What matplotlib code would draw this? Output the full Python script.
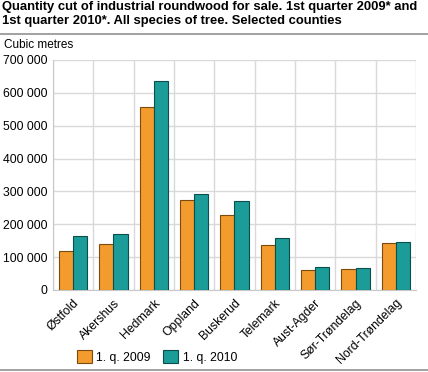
import matplotlib.pyplot as plt
import numpy as np

plt.rcParams['font.family'] = ['Liberation Sans', 'DejaVu Sans']

# data
counties = ['Østfold', 'Akershus', 'Hedmark', 'Oppland', 'Buskerud',
            'Telemark', 'Aust-Agder', 'Sør-Trøndelag', 'Nord-Trøndelag']
q2009 = [119000, 141000, 556000, 273000, 228000, 137000, 62000, 65000, 144000]
q2010 = [163000, 169000, 636000, 291000, 270000, 157000, 70000, 68000, 147000]
series_names = ['1. q. 2009', '1. q. 2010']

W, H = 428, 372
fig = plt.figure(figsize=(W / 100, H / 100), dpi=100)

# title + rules
fig.text(2 / W, 1 - 1 / H,
         'Quantity cut of industrial roundwood for sale. 1st quarter 2009* and\n'
         '1st quarter 2010*. All species of tree. Selected counties',
         ha='left', va='top', fontsize=9.4, fontweight='bold', linespacing=1.27)
fig.add_artist(plt.Line2D([0, 1], [1 - 34 / H, 1 - 34 / H], color='#9a9a9a', lw=1.3))
fig.add_artist(plt.Line2D([0, 1], [1 - 370 / H, 1 - 370 / H], color='#9a9a9a', lw=1.3))
fig.text(4 / W, 1 - 45 / H, 'Cubic metres', ha='left', va='center', fontsize=8.5)

ax = fig.add_axes([53 / W, (H - 290) / H, (416 - 53) / W, (290 - 60) / H])
x = np.arange(len(counties))
bw = 0.35
ax.bar(x - bw / 2, q2009, bw, color='#f39c2d', edgecolor='#7a4a10', lw=0.8,
       label=series_names[0], zorder=3)
ax.bar(x + bw / 2, q2010, bw, color='#1b9c98', edgecolor='#0b4f4c', lw=0.8,
       label=series_names[1], zorder=3)

ax.set_xlim(-0.5, len(counties) - 0.5)
ax.set_ylim(0, 700000)
ax.set_yticks(np.arange(0, 700001, 100000))
ax.set_yticklabels(['0' if v == 0 else f'{v:,}'.replace(',', ' ')
                    for v in range(0, 700001, 100000)], fontsize=8.8)
ax.set_xticks(x)
ax.set_xticklabels(counties, rotation=45, ha='right', rotation_mode='anchor',
                   fontsize=8.8)
ax.set_xticks(np.arange(-0.5, len(counties)), minor=True)
ax.grid(True, which='minor', axis='x', color='#d9d9d9', lw=1, zorder=0)
ax.grid(True, which='major', axis='y', color='#d9d9d9', lw=1, zorder=0)
ax.tick_params(axis='both', which='both', length=0)
ax.tick_params(axis='y', pad=4)
ax.tick_params(axis='x', pad=5)
for s in ['top', 'right']:
    ax.spines[s].set_visible(False)
ax.spines['left'].set_color('#c8c8c8')
ax.spines['bottom'].set_color('#c8c8c8')

fig.legend(loc='center left', bbox_to_anchor=(72 / W, 1 - 357 / H), ncol=2,
           frameon=False, fontsize=8.8, handlelength=1.2, handleheight=1.2,
           handletextpad=0.4, columnspacing=1.0, borderaxespad=0)

fig.savefig('out.png', dpi=100)
